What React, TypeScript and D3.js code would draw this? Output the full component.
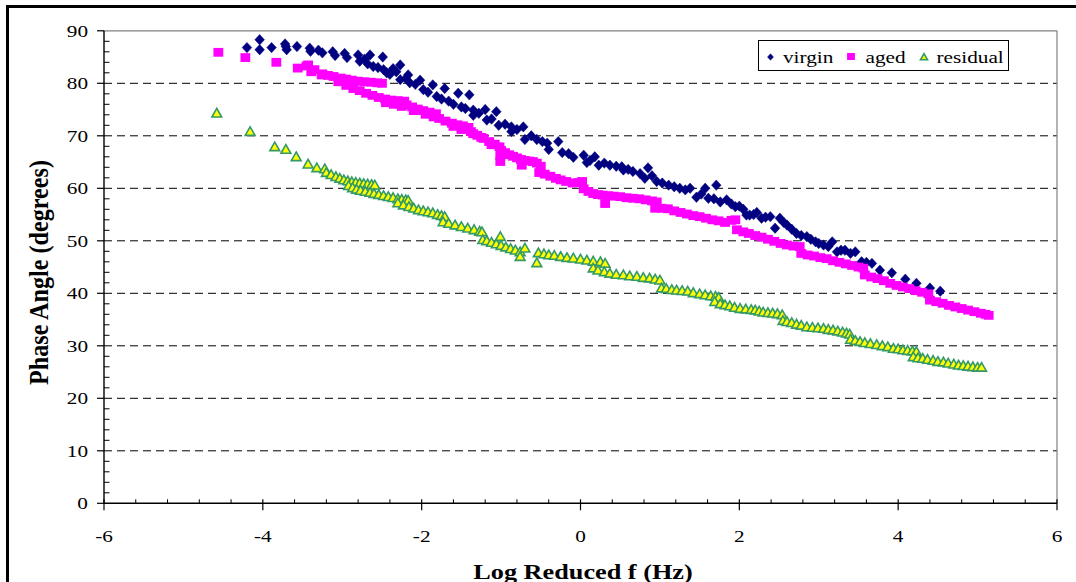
import React from "react";
import * as d3 from "d3";

const xTicks = [-6, -4, -2, 0, 2, 4, 6];
const yTicks = [0, 10, 20, 30, 40, 50, 60, 70, 80, 90];
const seriesNames = ["virgin", "aged", "residual"];

const virgin: [number, number][] = [
  [-4.20, 86.8], [-4.04, 88.3], [-4.04, 86.4], [-3.89, 86.8], [-3.72, 87.5], [-3.71, 87.0], [-3.70, 86.4],
  [-3.57, 87.0], [-3.41, 86.7], [-3.40, 86.1], [-3.30, 86.3], [-3.25, 85.8], [-3.12, 86.0], [-3.09, 85.3],
  [-2.97, 85.7], [-2.94, 84.9], [-2.80, 85.4], [-2.78, 84.2], [-2.72, 84.6], [-2.65, 85.4], [-2.68, 83.7],
  [-2.61, 83.2], [-2.55, 83.0], [-2.49, 85.0], [-2.48, 82.6], [-2.44, 82.0], [-2.40, 81.7], [-2.36, 82.8],
  [-2.27, 83.5], [-2.32, 82.2], [-2.27, 80.7], [-2.20, 80.9], [-2.17, 81.6], [-2.15, 80.1], [-2.08, 79.8],
  [-2.02, 80.6], [-1.98, 78.8], [-1.92, 78.3], [-1.86, 79.7], [-1.81, 77.5], [-1.75, 77.0], [-1.71, 79.0],
  [-1.66, 76.6], [-1.60, 76.0], [-1.54, 78.1], [-1.50, 75.5], [-1.45, 75.2], [-1.40, 77.8], [-1.35, 74.9],
  [-1.35, 73.9], [-1.28, 74.3], [-1.20, 75.0], [-1.18, 73.0], [-1.12, 73.2], [-1.06, 74.6], [-1.03, 72.0],
  [-0.95, 72.2], [-0.87, 71.7], [-0.87, 70.8], [-0.80, 71.2], [-0.72, 71.7], [-0.70, 69.3], [-0.62, 70.0],
  [-0.55, 69.3], [-0.48, 68.9], [-0.42, 68.6], [-0.40, 67.4], [-0.28, 68.9], [-0.23, 66.8], [-0.15, 66.6],
  [-0.09, 65.9], [0.04, 66.3], [0.08, 64.9], [0.12, 65.3], [0.18, 66.0], [0.23, 64.4], [0.30, 64.8],
  [0.37, 64.4], [0.45, 64.2], [0.52, 64.1], [0.54, 63.5], [0.60, 63.6], [0.66, 63.2], [0.75, 62.8],
  [0.85, 63.9], [0.81, 61.9], [0.90, 62.4], [0.96, 61.3], [1.03, 61.0], [1.11, 60.6], [1.18, 60.3],
  [1.25, 60.0], [1.32, 59.7], [1.38, 60.0], [1.46, 58.3], [1.52, 58.9], [1.57, 60.0], [1.61, 58.1],
  [1.68, 58.0], [1.71, 60.6], [1.76, 57.4], [1.84, 57.8], [1.90, 57.0], [1.95, 56.5], [2.00, 56.6],
  [2.05, 56.0], [2.09, 54.9], [2.13, 54.9], [2.18, 55.0], [2.22, 55.4], [2.28, 54.3], [2.33, 54.5],
  [2.39, 54.6], [2.45, 52.4], [2.51, 54.3], [2.56, 53.5], [2.60, 53.0], [2.66, 52.2], [2.72, 51.4],
  [2.78, 51.0], [2.85, 50.8], [2.90, 50.3], [2.96, 49.8], [3.00, 49.5], [3.06, 49.2], [3.12, 48.9],
  [3.17, 49.8], [3.23, 47.9], [3.28, 48.2], [3.33, 48.2], [3.40, 47.6], [3.46, 47.9], [3.54, 46.0],
  [3.60, 45.9], [3.67, 45.7], [3.77, 44.4], [3.92, 43.9], [4.09, 42.7], [4.23, 41.9], [4.40, 41.0],
  [4.53, 40.4],
];

const aged: [number, number][] = [
  [-4.56, 85.9], [-4.22, 84.9], [-3.83, 84.0], [-3.56, 82.9], [-3.45, 83.3], [-3.43, 83.5], [-3.39, 82.2],
  [-3.35, 82.6], [-3.26, 81.6], [-3.25, 81.8], [-3.18, 81.5], [-3.11, 81.3], [-3.02, 81.0], [-2.95, 80.8],
  [-2.88, 80.6], [-2.80, 80.4], [-2.72, 80.3], [-2.64, 80.2], [-2.56, 80.1], [-2.50, 80.0],
  [-3.05, 80.3], [-2.95, 79.6], [-2.86, 79.0], [-2.78, 78.6], [-2.70, 78.1], [-2.62, 77.7], [-2.54, 77.3],
  [-2.46, 77.0], [-2.45, 76.3], [-2.38, 76.8], [-2.35, 76.0], [-2.30, 76.7], [-2.25, 75.6], [-2.22, 76.6],
  [-2.19, 75.9], [-2.12, 75.5], [-2.10, 74.8], [-2.05, 75.1], [-1.98, 74.8], [-1.95, 74.1], [-1.90, 74.5],
  [-1.85, 73.6], [-1.82, 74.2], [-1.78, 73.3], [-1.70, 72.8], [-1.62, 72.4], [-1.60, 71.8], [-1.55, 72.1],
  [-1.50, 71.2], [-1.48, 71.9], [-1.41, 71.6], [-1.38, 70.8], [-1.35, 70.4], [-1.30, 70.1], [-1.25, 69.7],
  [-1.22, 69.5], [-1.15, 68.9], [-1.12, 68.3], [-1.08, 68.4], [-1.02, 67.9], [-1.00, 67.2], [-1.01, 66.2],
  [-1.01, 65.1], [-0.95, 66.8], [-0.90, 66.4], [-0.85, 66.1], [-0.80, 65.8], [-0.74, 64.4], [-0.75, 65.5],
  [-0.70, 65.3], [-0.65, 65.2], [-0.60, 65.1], [-0.55, 64.8], [-0.50, 64.2], [-0.52, 63.0], [-0.45, 62.7],
  [-0.38, 62.3], [-0.31, 61.9], [-0.25, 61.6], [-0.18, 61.3], [-0.10, 61.0], [-0.03, 61.1], [0.02, 61.3],
  [0.04, 59.9], [0.10, 59.4], [0.16, 59.0], [0.22, 58.8], [0.28, 58.7], [0.35, 58.6], [0.42, 58.5],
  [0.50, 58.4], [0.58, 58.2], [0.66, 58.1], [0.74, 58.0], [0.82, 57.8], [0.90, 57.6], [0.96, 57.4],
  [0.31, 57.1], [0.94, 56.2], [1.02, 56.2], [1.10, 56.1], [1.18, 55.7], [1.26, 55.4], [1.34, 55.1],
  [1.42, 54.8], [1.50, 54.6], [1.58, 54.3], [1.66, 54.0], [1.74, 53.8], [1.82, 53.5], [1.90, 53.9],
  [1.95, 54.0], [1.97, 52.1], [2.05, 51.7], [2.12, 51.4], [2.20, 51.0], [2.28, 50.7], [2.36, 50.3],
  [2.44, 49.9], [2.52, 49.5], [2.60, 49.2], [2.68, 49.0], [2.76, 48.9], [2.78, 47.6], [2.86, 47.3],
  [2.94, 47.1], [3.02, 46.8], [3.10, 46.6], [3.18, 46.2], [3.26, 45.9], [3.34, 45.6], [3.42, 45.3],
  [3.50, 45.0], [3.56, 44.8], [3.58, 43.5], [3.66, 43.1], [3.74, 42.8], [3.82, 42.4], [3.90, 41.9],
  [3.98, 41.5], [4.06, 41.2], [4.14, 40.9], [4.22, 40.5], [4.30, 40.2], [4.38, 39.9], [4.40, 38.7],
  [4.48, 38.4], [4.56, 38.1], [4.64, 37.7], [4.72, 37.4], [4.80, 37.1], [4.88, 36.8], [4.96, 36.5],
  [5.04, 36.2], [5.10, 36.0], [5.14, 35.8],
];

const residual: [number, number][] = [
  [-4.58, 74.3], [-4.16, 70.8], [-3.85, 67.9], [-3.71, 67.4], [-3.58, 66.0], [-3.43, 64.6], [-3.32, 63.9],
  [-3.22, 63.7], [-3.20, 63.0], [-3.14, 62.6], [-3.08, 62.2], [-3.03, 61.9], [-2.98, 61.6], [-2.93, 61.4],
  [-2.88, 61.2], [-2.83, 61.1], [-2.78, 61.0], [-2.73, 60.9], [-2.68, 60.8], [-2.63, 60.7], [-2.59, 60.6],
  [-2.92, 60.5], [-2.87, 60.1], [-2.82, 59.8], [-2.77, 59.6], [-2.71, 59.4], [-2.65, 59.2], [-2.60, 59.0],
  [-2.54, 58.8], [-2.48, 58.6], [-2.42, 58.4], [-2.36, 58.2], [-2.30, 58.0], [-2.25, 57.9], [-2.20, 57.8],
  [-2.17, 57.7], [-2.30, 57.2], [-2.23, 56.8], [-2.16, 56.5], [-2.10, 56.2], [-2.04, 55.9], [-1.98, 55.7],
  [-1.92, 55.5], [-1.86, 55.3], [-1.80, 55.0], [-1.75, 54.8], [-1.71, 54.6], [-1.73, 53.6], [-1.66, 53.3],
  [-1.58, 53.0], [-1.50, 52.7], [-1.42, 52.4], [-1.34, 52.1], [-1.27, 51.8], [-1.24, 51.7], [-1.23, 50.2],
  [-1.18, 50.0], [-1.12, 49.7], [-1.06, 49.4], [-1.01, 50.8], [-1.00, 49.1], [-0.94, 48.8], [-0.88, 48.5],
  [-0.82, 48.2], [-0.76, 47.9], [-0.70, 48.6], [-0.76, 47.0], [-0.55, 45.8], [-0.53, 47.7], [-0.46, 47.5],
  [-0.40, 47.3], [-0.33, 47.2], [-0.25, 47.0], [-0.17, 46.8], [-0.09, 46.7], [0.00, 46.5], [0.08, 46.3],
  [0.16, 46.1], [0.25, 46.0], [0.31, 45.7], [0.16, 44.8], [0.22, 44.4], [0.30, 44.1], [0.37, 43.8],
  [0.45, 43.6], [0.54, 43.5], [0.62, 43.3], [0.71, 43.2], [0.79, 43.0], [0.87, 42.9], [0.94, 42.7],
  [1.00, 42.5], [1.02, 41.0], [1.08, 40.9], [1.15, 40.7], [1.21, 40.6], [1.28, 40.5], [1.35, 40.4],
  [1.42, 40.1], [1.50, 39.9], [1.57, 39.7], [1.64, 39.5], [1.70, 39.4], [1.74, 39.2], [1.69, 38.4],
  [1.76, 38.0], [1.82, 37.8], [1.88, 37.6], [1.94, 37.3], [2.01, 37.1], [2.08, 37.0], [2.15, 36.9],
  [2.20, 36.8], [2.25, 36.6], [2.30, 36.4], [2.36, 36.3], [2.42, 36.2], [2.48, 36.1], [2.54, 35.9],
  [2.55, 34.8], [2.60, 34.6], [2.66, 34.4], [2.72, 34.1], [2.78, 33.9], [2.85, 33.6], [2.92, 33.5],
  [2.99, 33.4], [3.06, 33.3], [3.12, 33.1], [3.18, 33.0], [3.24, 32.8], [3.30, 32.6], [3.35, 32.4],
  [3.39, 32.2], [3.40, 31.2], [3.46, 31.0], [3.52, 30.8], [3.58, 30.6], [3.65, 30.4], [3.73, 30.2],
  [3.80, 30.0], [3.87, 29.8], [3.94, 29.5], [4.00, 29.4], [4.06, 29.2], [4.12, 29.1], [4.18, 29.0],
  [4.23, 28.9], [4.19, 27.9], [4.25, 27.7], [4.31, 27.6], [4.37, 27.4], [4.44, 27.2], [4.50, 27.0],
  [4.57, 26.9], [4.63, 26.7], [4.70, 26.5], [4.76, 26.3], [4.82, 26.2], [4.88, 26.1], [4.94, 26.0],
  [5.00, 25.9], [5.05, 25.9],
];

const W = 1076;
const H = 582;
const plot = { left: 104, right: 1057, top: 30.8, bottom: 503.3 };
const SX = 1.25;
const serif = "'Liberation Serif', 'Times New Roman', serif";

const NAVY = "#000080";
const MAGENTA = "#FF00FF";
const YELLOW = "#FFFF00";
const GREEN = "#339966";

function Diamond({ x, y, s = 1 }: { x: number; y: number; s?: number }) {
  return (
    <path
      d={`M${x},${y - 5.2 * s}L${x + 4.8 * s},${y}L${x},${y + 5.2 * s}L${x - 4.8 * s},${y}Z`}
      fill={NAVY}
      stroke={NAVY}
      strokeWidth={0.5}
    />
  );
}
function Square({ x, y, s = 1 }: { x: number; y: number; s?: number }) {
  return <rect x={x - 4.9 * s} y={y - 4.4 * s} width={9.8 * s} height={8.8 * s} fill={MAGENTA} />;
}
function Tri({ x, y, s = 1 }: { x: number; y: number; s?: number }) {
  return (
    <path
      d={`M${x},${y - 4.8 * s}L${x + 4.9 * s},${y + 3.8 * s}L${x - 4.9 * s},${y + 3.8 * s}Z`}
      fill={YELLOW}
      stroke={GREEN}
      strokeWidth={1.6}
      strokeLinejoin="miter"
    />
  );
}

export default function App() {
  const x = d3.scaleLinear().domain([-6, 6]).range([plot.left, plot.right]);
  const y = d3.scaleLinear().domain([0, 90]).range([plot.bottom, plot.top]);
  const xMinor = d3.range(-6, 6.001, 0.4).filter((v) => Math.abs(v / 2 - Math.round(v / 2)) > 1e-6);
  const yMinor = d3.range(0, 90.001, 2).filter((v) => v % 10 !== 0);

  return (
    <svg
      width={W}
      height={H}
      style={{ position: "absolute", left: 0, top: 0, background: "#fff" }}
      fontFamily={serif}
    >
      <rect x={0} y={0} width={W} height={H} fill="#fff" />
      {/* outer frame */}
      <rect x={7.5} y={6.5} width={1200} height={700} fill="none" stroke="#000" strokeWidth={3} />

      {/* gridlines */}
      {yTicks
        .filter((t) => t > 0 && t < 90)
        .map((t) => (
          <line
            key={"g" + t}
            x1={plot.left}
            x2={plot.right}
            y1={y(t)}
            y2={y(t)}
            stroke="#000"
            strokeWidth={1}
            strokeDasharray="8,5"
          />
        ))}
      {/* plot border top/right */}
      <line x1={plot.left} x2={plot.right} y1={plot.top} y2={plot.top} stroke="#808080" strokeWidth={1.2} />
      <line x1={plot.right} x2={plot.right} y1={plot.top} y2={plot.bottom} stroke="#808080" strokeWidth={1.2} />

      {/* axes */}
      <line x1={plot.left} x2={plot.left} y1={plot.top} y2={plot.bottom} stroke="#000" strokeWidth={1.4} />
      <line x1={plot.left} x2={plot.right} y1={plot.bottom} y2={plot.bottom} stroke="#000" strokeWidth={1.4} />
      {yTicks.map((t) => (
        <line key={"yt" + t} x1={plot.left - 7} x2={plot.left} y1={y(t)} y2={y(t)} stroke="#000" strokeWidth={1.2} />
      ))}
      {yMinor.map((t) => (
        <line key={"ym" + t} x1={plot.left} x2={plot.left + 5.5} y1={y(t)} y2={y(t)} stroke="#000" strokeWidth={1} />
      ))}
      {xTicks.map((t) => (
        <line key={"xt" + t} x1={x(t)} x2={x(t)} y1={plot.bottom - 4} y2={plot.bottom + 7} stroke="#000" strokeWidth={1.2} />
      ))}
      {xMinor.map((t) => (
        <line key={"xm" + t} x1={x(t)} x2={x(t)} y1={plot.bottom - 4} y2={plot.bottom} stroke="#000" strokeWidth={1} />
      ))}

      {/* tick labels */}
      {yTicks.map((t) => (
        <text
          key={"yl" + t}
          transform={`translate(88,${y(t) + 6}) scale(${SX},1)`}
          textAnchor="end"
          fontSize={17}
          fill="#000"
        >
          {t}
        </text>
      ))}
      {xTicks.map((t) => (
        <text
          key={"xl" + t}
          transform={`translate(${x(t)},${541.5}) scale(${SX},1)`}
          textAnchor="middle"
          fontSize={17}
          fill="#000"
        >
          {t}
        </text>
      ))}

      {/* axis titles */}
      <text
        transform={`translate(583,579) scale(${SX},1)`}
        textAnchor="middle"
        fontSize={21}
        fontWeight="bold"
        fill="#000"
      >
        Log Reduced f (Hz)
      </text>
      <text
        transform={`translate(47.5,272.5) scale(${SX},1) rotate(-90)`}
        textAnchor="middle"
        fontSize={21}
        fontWeight="bold"
        fill="#000"
        textLength={225}
        lengthAdjust="spacingAndGlyphs"
      >
        Phase Angle (degrees)
      </text>

      {/* data */}
      <g>
        {virgin.map(([a, b], i) => (
          <Diamond key={"v" + i} x={x(a)} y={y(b)} />
        ))}
      </g>
      <g>
        {aged.map(([a, b], i) => (
          <Square key={"a" + i} x={x(a)} y={y(b)} />
        ))}
      </g>
      <g>
        {residual.map(([a, b], i) => (
          <Tri key={"r" + i} x={x(a)} y={y(b)} />
        ))}
      </g>

      {/* legend */}
      <rect x={758.5} y={40.5} width={250} height={30} fill="#fff" stroke="#000" strokeWidth={1} />
      <Diamond x={770.5} y={57} s={0.62} />
      <text transform={`translate(783,62.5) scale(${SX},1)`} fontSize={17} fill="#000">
        {seriesNames[0]}
      </text>
      <Square x={851} y={56.5} s={0.8} />
      <text transform={`translate(865.5,62.5) scale(${SX},1)`} fontSize={17} fill="#000">
        {seriesNames[1]}
      </text>
      <Tri x={924} y={57} s={0.72} />
      <text transform={`translate(936.5,62.5) scale(${SX},1)`} fontSize={17} fill="#000">
        {seriesNames[2]}
      </text>
    </svg>
  );
}
